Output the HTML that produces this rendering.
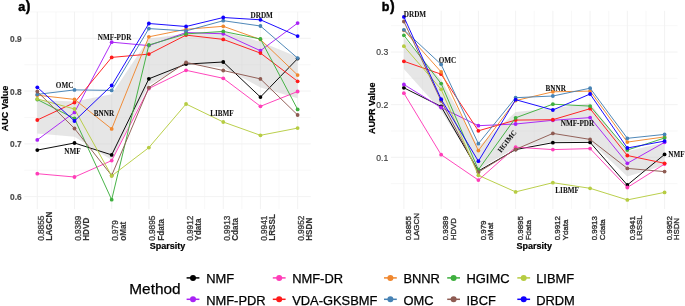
<!DOCTYPE html>
<html><head><meta charset="utf-8"><style>
html,body{margin:0;padding:0;background:#fff;}
body{width:685px;height:306px;overflow:hidden;font-family:"Liberation Sans",sans-serif;}
svg{display:block;will-change:transform;}
</style></head><body>
<svg width="685" height="306" viewBox="0 0 685 306">
<g>
<rect width="685" height="306" fill="#fff"/>
<line x1="55.89" y1="11.9" x2="55.89" y2="209.1" stroke="#F1F1F1" stroke-width="0.5"/>
<line x1="93.08" y1="11.9" x2="93.08" y2="209.1" stroke="#F1F1F1" stroke-width="0.5"/>
<line x1="130.28" y1="11.9" x2="130.28" y2="209.1" stroke="#F1F1F1" stroke-width="0.5"/>
<line x1="167.47" y1="11.9" x2="167.47" y2="209.1" stroke="#F1F1F1" stroke-width="0.5"/>
<line x1="204.66" y1="11.9" x2="204.66" y2="209.1" stroke="#F1F1F1" stroke-width="0.5"/>
<line x1="241.84" y1="11.9" x2="241.84" y2="209.1" stroke="#F1F1F1" stroke-width="0.5"/>
<line x1="279.03" y1="11.9" x2="279.03" y2="209.1" stroke="#F1F1F1" stroke-width="0.5"/>
<line x1="24.3" y1="170.23" x2="310.7" y2="170.23" stroke="#F1F1F1" stroke-width="0.5"/>
<line x1="24.3" y1="117.46" x2="310.7" y2="117.46" stroke="#F1F1F1" stroke-width="0.5"/>
<line x1="24.3" y1="64.69" x2="310.7" y2="64.69" stroke="#F1F1F1" stroke-width="0.5"/>
<line x1="24.3" y1="11.92" x2="310.7" y2="11.92" stroke="#F1F1F1" stroke-width="0.5"/>
<line x1="37.3" y1="11.9" x2="37.3" y2="209.1" stroke="#F1F1F1" stroke-width="0.9"/>
<line x1="74.49" y1="11.9" x2="74.49" y2="209.1" stroke="#F1F1F1" stroke-width="0.9"/>
<line x1="111.68" y1="11.9" x2="111.68" y2="209.1" stroke="#F1F1F1" stroke-width="0.9"/>
<line x1="148.87" y1="11.9" x2="148.87" y2="209.1" stroke="#F1F1F1" stroke-width="0.9"/>
<line x1="186.06" y1="11.9" x2="186.06" y2="209.1" stroke="#F1F1F1" stroke-width="0.9"/>
<line x1="223.25" y1="11.9" x2="223.25" y2="209.1" stroke="#F1F1F1" stroke-width="0.9"/>
<line x1="260.44" y1="11.9" x2="260.44" y2="209.1" stroke="#F1F1F1" stroke-width="0.9"/>
<line x1="297.63" y1="11.9" x2="297.63" y2="209.1" stroke="#F1F1F1" stroke-width="0.9"/>
<line x1="24.3" y1="196.61" x2="310.7" y2="196.61" stroke="#F1F1F1" stroke-width="0.9"/>
<line x1="24.3" y1="143.84" x2="310.7" y2="143.84" stroke="#F1F1F1" stroke-width="0.9"/>
<line x1="24.3" y1="91.07" x2="310.7" y2="91.07" stroke="#F1F1F1" stroke-width="0.9"/>
<line x1="24.3" y1="38.3" x2="310.7" y2="38.3" stroke="#F1F1F1" stroke-width="0.9"/>
<polygon points="37.3,100 74.49,101.5 111.68,94.21 148.87,38.5 186.06,33.67 223.25,31.5 260.44,41.67 297.63,57.03 297.63,98.23 260.44,87.47 223.25,67.5 186.06,64.13 148.87,85 111.68,159.99 74.49,136.8 37.3,133.5" fill="#C8C8C8" fill-opacity="0.45"/>
<polyline points="37.3,150.1 74.49,143 111.68,154.9 148.87,78.8 186.06,64.1 223.25,62 260.44,97.1 297.63,58.6" fill="none" stroke="#000000" stroke-width="0.95" stroke-linejoin="round"/>
<circle cx="37.3" cy="150.1" r="1.9" fill="#000000"/>
<circle cx="74.49" cy="143" r="1.9" fill="#000000"/>
<circle cx="111.68" cy="154.9" r="1.9" fill="#000000"/>
<circle cx="148.87" cy="78.8" r="1.9" fill="#000000"/>
<circle cx="186.06" cy="64.1" r="1.9" fill="#000000"/>
<circle cx="223.25" cy="62" r="1.9" fill="#000000"/>
<circle cx="260.44" cy="97.1" r="1.9" fill="#000000"/>
<circle cx="297.63" cy="58.6" r="1.9" fill="#000000"/>
<polyline points="37.3,139.9 74.49,112.4 111.68,42.2 148.87,45.6 186.06,32.5 223.25,33.8 260.44,50.7 297.63,23.1" fill="none" stroke="#A922F5" stroke-width="0.95" stroke-linejoin="round"/>
<circle cx="37.3" cy="139.9" r="1.9" fill="#A922F5"/>
<circle cx="74.49" cy="112.4" r="1.9" fill="#A922F5"/>
<circle cx="111.68" cy="42.2" r="1.9" fill="#A922F5"/>
<circle cx="148.87" cy="45.6" r="1.9" fill="#A922F5"/>
<circle cx="186.06" cy="32.5" r="1.9" fill="#A922F5"/>
<circle cx="223.25" cy="33.8" r="1.9" fill="#A922F5"/>
<circle cx="260.44" cy="50.7" r="1.9" fill="#A922F5"/>
<circle cx="297.63" cy="23.1" r="1.9" fill="#A922F5"/>
<polyline points="37.3,173.7 74.49,177 111.68,160.6 148.87,88.5 186.06,70.3 223.25,78.3 260.44,106.3 297.63,91.5" fill="none" stroke="#FF3DB8" stroke-width="0.95" stroke-linejoin="round"/>
<circle cx="37.3" cy="173.7" r="1.9" fill="#FF3DB8"/>
<circle cx="74.49" cy="177" r="1.9" fill="#FF3DB8"/>
<circle cx="111.68" cy="160.6" r="1.9" fill="#FF3DB8"/>
<circle cx="148.87" cy="88.5" r="1.9" fill="#FF3DB8"/>
<circle cx="186.06" cy="70.3" r="1.9" fill="#FF3DB8"/>
<circle cx="223.25" cy="78.3" r="1.9" fill="#FF3DB8"/>
<circle cx="260.44" cy="106.3" r="1.9" fill="#FF3DB8"/>
<circle cx="297.63" cy="91.5" r="1.9" fill="#FF3DB8"/>
<polyline points="37.3,120 74.49,102.6 111.68,57.4 148.87,54.1 186.06,35.1 223.25,39.4 260.44,53.1 297.63,81.3" fill="none" stroke="#FF1A1A" stroke-width="0.95" stroke-linejoin="round"/>
<circle cx="37.3" cy="120" r="1.9" fill="#FF1A1A"/>
<circle cx="74.49" cy="102.6" r="1.9" fill="#FF1A1A"/>
<circle cx="111.68" cy="57.4" r="1.9" fill="#FF1A1A"/>
<circle cx="148.87" cy="54.1" r="1.9" fill="#FF1A1A"/>
<circle cx="186.06" cy="35.1" r="1.9" fill="#FF1A1A"/>
<circle cx="223.25" cy="39.4" r="1.9" fill="#FF1A1A"/>
<circle cx="260.44" cy="53.1" r="1.9" fill="#FF1A1A"/>
<circle cx="297.63" cy="81.3" r="1.9" fill="#FF1A1A"/>
<polyline points="37.3,95.2 74.49,99.4 111.68,128.9 148.87,36.8 186.06,29.3 223.25,26.3 260.44,39.5 297.63,75.1" fill="none" stroke="#F0872E" stroke-width="0.95" stroke-linejoin="round"/>
<circle cx="37.3" cy="95.2" r="1.9" fill="#F0872E"/>
<circle cx="74.49" cy="99.4" r="1.9" fill="#F0872E"/>
<circle cx="111.68" cy="128.9" r="1.9" fill="#F0872E"/>
<circle cx="148.87" cy="36.8" r="1.9" fill="#F0872E"/>
<circle cx="186.06" cy="29.3" r="1.9" fill="#F0872E"/>
<circle cx="223.25" cy="26.3" r="1.9" fill="#F0872E"/>
<circle cx="260.44" cy="39.5" r="1.9" fill="#F0872E"/>
<circle cx="297.63" cy="75.1" r="1.9" fill="#F0872E"/>
<polyline points="37.3,94.4 74.49,89.9 111.68,90.4 148.87,28.6 186.06,30.9 223.25,20.7 260.44,26 297.63,58.1" fill="none" stroke="#4682B4" stroke-width="0.95" stroke-linejoin="round"/>
<circle cx="37.3" cy="94.4" r="1.9" fill="#4682B4"/>
<circle cx="74.49" cy="89.9" r="1.9" fill="#4682B4"/>
<circle cx="111.68" cy="90.4" r="1.9" fill="#4682B4"/>
<circle cx="148.87" cy="28.6" r="1.9" fill="#4682B4"/>
<circle cx="186.06" cy="30.9" r="1.9" fill="#4682B4"/>
<circle cx="223.25" cy="20.7" r="1.9" fill="#4682B4"/>
<circle cx="260.44" cy="26" r="1.9" fill="#4682B4"/>
<circle cx="297.63" cy="58.1" r="1.9" fill="#4682B4"/>
<polyline points="37.3,99.5 74.49,118.5 111.68,199.7 148.87,45 186.06,33.9 223.25,31.4 260.44,39 297.63,109.4" fill="none" stroke="#3EAF3E" stroke-width="0.95" stroke-linejoin="round"/>
<circle cx="37.3" cy="99.5" r="1.9" fill="#3EAF3E"/>
<circle cx="74.49" cy="118.5" r="1.9" fill="#3EAF3E"/>
<circle cx="111.68" cy="199.7" r="1.9" fill="#3EAF3E"/>
<circle cx="148.87" cy="45" r="1.9" fill="#3EAF3E"/>
<circle cx="186.06" cy="33.9" r="1.9" fill="#3EAF3E"/>
<circle cx="223.25" cy="31.4" r="1.9" fill="#3EAF3E"/>
<circle cx="260.44" cy="39" r="1.9" fill="#3EAF3E"/>
<circle cx="297.63" cy="109.4" r="1.9" fill="#3EAF3E"/>
<polyline points="37.3,91.5 74.49,128.5 111.68,175.5 148.87,87.6 186.06,62.4 223.25,70.5 260.44,78.9 297.63,115" fill="none" stroke="#8E5B52" stroke-width="0.95" stroke-linejoin="round"/>
<circle cx="37.3" cy="91.5" r="1.9" fill="#8E5B52"/>
<circle cx="74.49" cy="128.5" r="1.9" fill="#8E5B52"/>
<circle cx="111.68" cy="175.5" r="1.9" fill="#8E5B52"/>
<circle cx="148.87" cy="87.6" r="1.9" fill="#8E5B52"/>
<circle cx="186.06" cy="62.4" r="1.9" fill="#8E5B52"/>
<circle cx="223.25" cy="70.5" r="1.9" fill="#8E5B52"/>
<circle cx="260.44" cy="78.9" r="1.9" fill="#8E5B52"/>
<circle cx="297.63" cy="115" r="1.9" fill="#8E5B52"/>
<polyline points="37.3,98.9 74.49,109 111.68,175.9 148.87,147.6 186.06,104 223.25,122 260.44,135.3 297.63,128.1" fill="none" stroke="#B6CC42" stroke-width="0.95" stroke-linejoin="round"/>
<circle cx="37.3" cy="98.9" r="1.9" fill="#B6CC42"/>
<circle cx="74.49" cy="109" r="1.9" fill="#B6CC42"/>
<circle cx="111.68" cy="175.9" r="1.9" fill="#B6CC42"/>
<circle cx="148.87" cy="147.6" r="1.9" fill="#B6CC42"/>
<circle cx="186.06" cy="104" r="1.9" fill="#B6CC42"/>
<circle cx="223.25" cy="122" r="1.9" fill="#B6CC42"/>
<circle cx="260.44" cy="135.3" r="1.9" fill="#B6CC42"/>
<circle cx="297.63" cy="128.1" r="1.9" fill="#B6CC42"/>
<polyline points="37.3,87.3 74.49,121 111.68,85.5 148.87,23.5 186.06,26.5 223.25,17.5 260.44,19.8 297.63,36.1" fill="none" stroke="#1000FF" stroke-width="0.95" stroke-linejoin="round"/>
<circle cx="37.3" cy="87.3" r="1.9" fill="#1000FF"/>
<circle cx="74.49" cy="121" r="1.9" fill="#1000FF"/>
<circle cx="111.68" cy="85.5" r="1.9" fill="#1000FF"/>
<circle cx="148.87" cy="23.5" r="1.9" fill="#1000FF"/>
<circle cx="186.06" cy="26.5" r="1.9" fill="#1000FF"/>
<circle cx="223.25" cy="17.5" r="1.9" fill="#1000FF"/>
<circle cx="260.44" cy="19.8" r="1.9" fill="#1000FF"/>
<circle cx="297.63" cy="36.1" r="1.9" fill="#1000FF"/>
<line x1="422.52" y1="10.8" x2="422.52" y2="209" stroke="#F1F1F1" stroke-width="0.5"/>
<line x1="459.76" y1="10.8" x2="459.76" y2="209" stroke="#F1F1F1" stroke-width="0.5"/>
<line x1="497" y1="10.8" x2="497" y2="209" stroke="#F1F1F1" stroke-width="0.5"/>
<line x1="534.24" y1="10.8" x2="534.24" y2="209" stroke="#F1F1F1" stroke-width="0.5"/>
<line x1="571.48" y1="10.8" x2="571.48" y2="209" stroke="#F1F1F1" stroke-width="0.5"/>
<line x1="608.72" y1="10.8" x2="608.72" y2="209" stroke="#F1F1F1" stroke-width="0.5"/>
<line x1="645.96" y1="10.8" x2="645.96" y2="209" stroke="#F1F1F1" stroke-width="0.5"/>
<line x1="390.9" y1="183.62" x2="677.6" y2="183.62" stroke="#F1F1F1" stroke-width="0.5"/>
<line x1="390.9" y1="130.97" x2="677.6" y2="130.97" stroke="#F1F1F1" stroke-width="0.5"/>
<line x1="390.9" y1="78.32" x2="677.6" y2="78.32" stroke="#F1F1F1" stroke-width="0.5"/>
<line x1="390.9" y1="25.68" x2="677.6" y2="25.68" stroke="#F1F1F1" stroke-width="0.5"/>
<line x1="403.9" y1="10.8" x2="403.9" y2="209" stroke="#F1F1F1" stroke-width="0.9"/>
<line x1="441.14" y1="10.8" x2="441.14" y2="209" stroke="#F1F1F1" stroke-width="0.9"/>
<line x1="478.38" y1="10.8" x2="478.38" y2="209" stroke="#F1F1F1" stroke-width="0.9"/>
<line x1="515.62" y1="10.8" x2="515.62" y2="209" stroke="#F1F1F1" stroke-width="0.9"/>
<line x1="552.86" y1="10.8" x2="552.86" y2="209" stroke="#F1F1F1" stroke-width="0.9"/>
<line x1="590.1" y1="10.8" x2="590.1" y2="209" stroke="#F1F1F1" stroke-width="0.9"/>
<line x1="627.34" y1="10.8" x2="627.34" y2="209" stroke="#F1F1F1" stroke-width="0.9"/>
<line x1="664.58" y1="10.8" x2="664.58" y2="209" stroke="#F1F1F1" stroke-width="0.9"/>
<line x1="390.9" y1="157.3" x2="677.6" y2="157.3" stroke="#F1F1F1" stroke-width="0.9"/>
<line x1="390.9" y1="104.65" x2="677.6" y2="104.65" stroke="#F1F1F1" stroke-width="0.9"/>
<line x1="390.9" y1="52" x2="677.6" y2="52" stroke="#F1F1F1" stroke-width="0.9"/>
<polygon points="403.9,37.5 441.14,79.76 478.38,146.46 515.62,111.92 552.86,108.34 590.1,103.31 627.34,151.2 664.58,142.51 664.58,165.17 627.34,176.4 590.1,141.57 552.86,141.74 515.62,147.68 478.38,169.6 441.14,110.66 403.9,69" fill="#C8C8C8" fill-opacity="0.45"/>
<polyline points="403.9,87.8 441.14,106.5 478.38,171 515.62,149.6 552.86,142.7 590.1,142.4 627.34,185 664.58,154.4" fill="none" stroke="#000000" stroke-width="0.95" stroke-linejoin="round"/>
<circle cx="403.9" cy="87.8" r="1.9" fill="#000000"/>
<circle cx="441.14" cy="106.5" r="1.9" fill="#000000"/>
<circle cx="478.38" cy="171" r="1.9" fill="#000000"/>
<circle cx="515.62" cy="149.6" r="1.9" fill="#000000"/>
<circle cx="552.86" cy="142.7" r="1.9" fill="#000000"/>
<circle cx="590.1" cy="142.4" r="1.9" fill="#000000"/>
<circle cx="627.34" cy="185" r="1.9" fill="#000000"/>
<circle cx="664.58" cy="154.4" r="1.9" fill="#000000"/>
<polyline points="403.9,84.5 441.14,107.5 478.38,125.7 515.62,124 552.86,120.3 590.1,117.6 627.34,163.3 664.58,142.3" fill="none" stroke="#A922F5" stroke-width="0.95" stroke-linejoin="round"/>
<circle cx="403.9" cy="84.5" r="1.9" fill="#A922F5"/>
<circle cx="441.14" cy="107.5" r="1.9" fill="#A922F5"/>
<circle cx="478.38" cy="125.7" r="1.9" fill="#A922F5"/>
<circle cx="515.62" cy="124" r="1.9" fill="#A922F5"/>
<circle cx="552.86" cy="120.3" r="1.9" fill="#A922F5"/>
<circle cx="590.1" cy="117.6" r="1.9" fill="#A922F5"/>
<circle cx="627.34" cy="163.3" r="1.9" fill="#A922F5"/>
<circle cx="664.58" cy="142.3" r="1.9" fill="#A922F5"/>
<polyline points="403.9,93.2 441.14,154.7 478.38,180.1 515.62,147.2 552.86,149.6 590.1,148.6 627.34,187.5 664.58,164" fill="none" stroke="#FF3DB8" stroke-width="0.95" stroke-linejoin="round"/>
<circle cx="403.9" cy="93.2" r="1.9" fill="#FF3DB8"/>
<circle cx="441.14" cy="154.7" r="1.9" fill="#FF3DB8"/>
<circle cx="478.38" cy="180.1" r="1.9" fill="#FF3DB8"/>
<circle cx="515.62" cy="147.2" r="1.9" fill="#FF3DB8"/>
<circle cx="552.86" cy="149.6" r="1.9" fill="#FF3DB8"/>
<circle cx="590.1" cy="148.6" r="1.9" fill="#FF3DB8"/>
<circle cx="627.34" cy="187.5" r="1.9" fill="#FF3DB8"/>
<circle cx="664.58" cy="164" r="1.9" fill="#FF3DB8"/>
<polyline points="403.9,61.3 441.14,74.2 478.38,130.8 515.62,120.1 552.86,119.7 590.1,108.7 627.34,155.5 664.58,163.3" fill="none" stroke="#FF1A1A" stroke-width="0.95" stroke-linejoin="round"/>
<circle cx="403.9" cy="61.3" r="1.9" fill="#FF1A1A"/>
<circle cx="441.14" cy="74.2" r="1.9" fill="#FF1A1A"/>
<circle cx="478.38" cy="130.8" r="1.9" fill="#FF1A1A"/>
<circle cx="515.62" cy="120.1" r="1.9" fill="#FF1A1A"/>
<circle cx="552.86" cy="119.7" r="1.9" fill="#FF1A1A"/>
<circle cx="590.1" cy="108.7" r="1.9" fill="#FF1A1A"/>
<circle cx="627.34" cy="155.5" r="1.9" fill="#FF1A1A"/>
<circle cx="664.58" cy="163.3" r="1.9" fill="#FF1A1A"/>
<polyline points="403.9,30.3 441.14,71.9 478.38,150.6 515.62,100.6 552.86,91.8 590.1,91.1 627.34,142.1 664.58,136.9" fill="none" stroke="#F0872E" stroke-width="0.95" stroke-linejoin="round"/>
<circle cx="403.9" cy="30.3" r="1.9" fill="#F0872E"/>
<circle cx="441.14" cy="71.9" r="1.9" fill="#F0872E"/>
<circle cx="478.38" cy="150.6" r="1.9" fill="#F0872E"/>
<circle cx="515.62" cy="100.6" r="1.9" fill="#F0872E"/>
<circle cx="552.86" cy="91.8" r="1.9" fill="#F0872E"/>
<circle cx="590.1" cy="91.1" r="1.9" fill="#F0872E"/>
<circle cx="627.34" cy="142.1" r="1.9" fill="#F0872E"/>
<circle cx="664.58" cy="136.9" r="1.9" fill="#F0872E"/>
<polyline points="403.9,29.8 441.14,64.4 478.38,143.7 515.62,97.7 552.86,96 590.1,88.2 627.34,138.3 664.58,134.4" fill="none" stroke="#4682B4" stroke-width="0.95" stroke-linejoin="round"/>
<circle cx="403.9" cy="29.8" r="1.9" fill="#4682B4"/>
<circle cx="441.14" cy="64.4" r="1.9" fill="#4682B4"/>
<circle cx="478.38" cy="143.7" r="1.9" fill="#4682B4"/>
<circle cx="515.62" cy="97.7" r="1.9" fill="#4682B4"/>
<circle cx="552.86" cy="96" r="1.9" fill="#4682B4"/>
<circle cx="590.1" cy="88.2" r="1.9" fill="#4682B4"/>
<circle cx="627.34" cy="138.3" r="1.9" fill="#4682B4"/>
<circle cx="664.58" cy="134.4" r="1.9" fill="#4682B4"/>
<polyline points="403.9,35.3 441.14,83.6 478.38,169.7 515.62,117.8 552.86,104.2 590.1,106.1 627.34,150 664.58,138" fill="none" stroke="#3EAF3E" stroke-width="0.95" stroke-linejoin="round"/>
<circle cx="403.9" cy="35.3" r="1.9" fill="#3EAF3E"/>
<circle cx="441.14" cy="83.6" r="1.9" fill="#3EAF3E"/>
<circle cx="478.38" cy="169.7" r="1.9" fill="#3EAF3E"/>
<circle cx="515.62" cy="117.8" r="1.9" fill="#3EAF3E"/>
<circle cx="552.86" cy="104.2" r="1.9" fill="#3EAF3E"/>
<circle cx="590.1" cy="106.1" r="1.9" fill="#3EAF3E"/>
<circle cx="627.34" cy="150" r="1.9" fill="#3EAF3E"/>
<circle cx="664.58" cy="138" r="1.9" fill="#3EAF3E"/>
<polyline points="403.9,21.5 441.14,100.8 478.38,172.2 515.62,149.4 552.86,133.4 590.1,139.4 627.34,168.4 664.58,171.6" fill="none" stroke="#8E5B52" stroke-width="0.95" stroke-linejoin="round"/>
<circle cx="403.9" cy="21.5" r="1.9" fill="#8E5B52"/>
<circle cx="441.14" cy="100.8" r="1.9" fill="#8E5B52"/>
<circle cx="478.38" cy="172.2" r="1.9" fill="#8E5B52"/>
<circle cx="515.62" cy="149.4" r="1.9" fill="#8E5B52"/>
<circle cx="552.86" cy="133.4" r="1.9" fill="#8E5B52"/>
<circle cx="590.1" cy="139.4" r="1.9" fill="#8E5B52"/>
<circle cx="627.34" cy="168.4" r="1.9" fill="#8E5B52"/>
<circle cx="664.58" cy="171.6" r="1.9" fill="#8E5B52"/>
<polyline points="403.9,46.2 441.14,89.3 478.38,175.3 515.62,191.9 552.86,182.7 590.1,188.3 627.34,199.9 664.58,192.4" fill="none" stroke="#B6CC42" stroke-width="0.95" stroke-linejoin="round"/>
<circle cx="403.9" cy="46.2" r="1.9" fill="#B6CC42"/>
<circle cx="441.14" cy="89.3" r="1.9" fill="#B6CC42"/>
<circle cx="478.38" cy="175.3" r="1.9" fill="#B6CC42"/>
<circle cx="515.62" cy="191.9" r="1.9" fill="#B6CC42"/>
<circle cx="552.86" cy="182.7" r="1.9" fill="#B6CC42"/>
<circle cx="590.1" cy="188.3" r="1.9" fill="#B6CC42"/>
<circle cx="627.34" cy="199.9" r="1.9" fill="#B6CC42"/>
<circle cx="664.58" cy="192.4" r="1.9" fill="#B6CC42"/>
<polyline points="403.9,16.9 441.14,99.2 478.38,161.2 515.62,99.7 552.86,110 590.1,94 627.34,148 664.58,141.1" fill="none" stroke="#1000FF" stroke-width="0.95" stroke-linejoin="round"/>
<circle cx="403.9" cy="16.9" r="1.9" fill="#1000FF"/>
<circle cx="441.14" cy="99.2" r="1.9" fill="#1000FF"/>
<circle cx="478.38" cy="161.2" r="1.9" fill="#1000FF"/>
<circle cx="515.62" cy="99.7" r="1.9" fill="#1000FF"/>
<circle cx="552.86" cy="110" r="1.9" fill="#1000FF"/>
<circle cx="590.1" cy="94" r="1.9" fill="#1000FF"/>
<circle cx="627.34" cy="148" r="1.9" fill="#1000FF"/>
<circle cx="664.58" cy="141.1" r="1.9" fill="#1000FF"/>
<text x="21.6" y="41.9" text-anchor="end" font-family="Liberation Sans, sans-serif" font-weight="bold" font-size="8.3" fill="#4D4D4D" stroke="#4D4D4D" stroke-width="0.2">0.9</text>
<text x="21.6" y="94.67" text-anchor="end" font-family="Liberation Sans, sans-serif" font-weight="bold" font-size="8.3" fill="#4D4D4D" stroke="#4D4D4D" stroke-width="0.2">0.8</text>
<text x="21.6" y="147.44" text-anchor="end" font-family="Liberation Sans, sans-serif" font-weight="bold" font-size="8.3" fill="#4D4D4D" stroke="#4D4D4D" stroke-width="0.2">0.7</text>
<text x="21.6" y="200.21" text-anchor="end" font-family="Liberation Sans, sans-serif" font-weight="bold" font-size="8.3" fill="#4D4D4D" stroke="#4D4D4D" stroke-width="0.2">0.6</text>
<text x="388.3" y="55.3" text-anchor="end" font-family="Liberation Sans, sans-serif" font-size="8.6" fill="#3C3C3C" stroke="#3C3C3C" stroke-width="0.15">0.3</text>
<text x="388.3" y="107.95" text-anchor="end" font-family="Liberation Sans, sans-serif" font-size="8.6" fill="#3C3C3C" stroke="#3C3C3C" stroke-width="0.15">0.2</text>
<text x="388.3" y="160.6" text-anchor="end" font-family="Liberation Sans, sans-serif" font-size="8.6" fill="#3C3C3C" stroke="#3C3C3C" stroke-width="0.15">0.1</text>
<text transform="translate(8.3,108.5) rotate(-90)" text-anchor="middle" font-family="Liberation Sans, sans-serif" font-weight="bold" font-size="9" fill="#000" stroke="#000" stroke-width="0.2">AUC Value</text>
<text transform="translate(375.2,108.3) rotate(-90)" text-anchor="middle" font-family="Liberation Sans, sans-serif" font-weight="bold" font-size="9" fill="#000" stroke="#000" stroke-width="0.2">AUPR Value</text>
<text transform="translate(43.9,240.8) rotate(-90)" font-family="Liberation Sans, sans-serif" stroke="#444" stroke-width="0.35" font-size="8.2" fill="#444">0.8855</text>
<text transform="translate(52,240.8) rotate(-90)" font-family="Liberation Sans, sans-serif" font-weight="bold" stroke="#333" stroke-width="0.15" font-size="8.2" fill="#333">LAGCN</text>
<text transform="translate(81.09,240.8) rotate(-90)" font-family="Liberation Sans, sans-serif" stroke="#444" stroke-width="0.35" font-size="8.2" fill="#444">0.9389</text>
<text transform="translate(89.19,240.8) rotate(-90)" font-family="Liberation Sans, sans-serif" font-weight="bold" stroke="#333" stroke-width="0.15" font-size="8.2" fill="#333">HDVD</text>
<text transform="translate(118.28,240.8) rotate(-90)" font-family="Liberation Sans, sans-serif" stroke="#444" stroke-width="0.35" font-size="8.2" fill="#444">0.979</text>
<text transform="translate(126.38,240.8) rotate(-90)" font-family="Liberation Sans, sans-serif" font-weight="bold" stroke="#333" stroke-width="0.15" font-size="8.2" fill="#333">oMat</text>
<text transform="translate(155.47,240.8) rotate(-90)" font-family="Liberation Sans, sans-serif" stroke="#444" stroke-width="0.35" font-size="8.2" fill="#444">0.9895</text>
<text transform="translate(163.57,240.8) rotate(-90)" font-family="Liberation Sans, sans-serif" font-weight="bold" stroke="#333" stroke-width="0.15" font-size="8.2" fill="#333">Fdata</text>
<text transform="translate(192.66,240.8) rotate(-90)" font-family="Liberation Sans, sans-serif" stroke="#444" stroke-width="0.35" font-size="8.2" fill="#444">0.9912</text>
<text transform="translate(200.76,240.8) rotate(-90)" font-family="Liberation Sans, sans-serif" font-weight="bold" stroke="#333" stroke-width="0.15" font-size="8.2" fill="#333">Ydata</text>
<text transform="translate(229.85,240.8) rotate(-90)" font-family="Liberation Sans, sans-serif" stroke="#444" stroke-width="0.35" font-size="8.2" fill="#444">0.9913</text>
<text transform="translate(237.95,240.8) rotate(-90)" font-family="Liberation Sans, sans-serif" font-weight="bold" stroke="#333" stroke-width="0.15" font-size="8.2" fill="#333">Cdata</text>
<text transform="translate(267.04,240.8) rotate(-90)" font-family="Liberation Sans, sans-serif" stroke="#444" stroke-width="0.35" font-size="8.2" fill="#444">0.9941</text>
<text transform="translate(275.14,240.8) rotate(-90)" font-family="Liberation Sans, sans-serif" font-weight="bold" stroke="#333" stroke-width="0.15" font-size="8.2" fill="#333">LRSSL</text>
<text transform="translate(304.23,240.8) rotate(-90)" font-family="Liberation Sans, sans-serif" stroke="#444" stroke-width="0.35" font-size="8.2" fill="#444">0.9952</text>
<text transform="translate(312.33,240.8) rotate(-90)" font-family="Liberation Sans, sans-serif" font-weight="bold" stroke="#333" stroke-width="0.15" font-size="8.2" fill="#333">HSDN</text>
<text transform="translate(411.1,240.3) rotate(-90)" font-family="Liberation Sans, sans-serif" stroke="#333" stroke-width="0.35" font-size="7.9" fill="#333">0.8855</text>
<text transform="translate(418.8,240.3) rotate(-90)" font-family="Liberation Sans, sans-serif" stroke="#333" stroke-width="0.35" font-size="7.9" fill="#333">LAGCN</text>
<text transform="translate(448.34,240.3) rotate(-90)" font-family="Liberation Sans, sans-serif" stroke="#333" stroke-width="0.35" font-size="7.9" fill="#333">0.9389</text>
<text transform="translate(456.04,240.3) rotate(-90)" font-family="Liberation Sans, sans-serif" stroke="#333" stroke-width="0.35" font-size="7.9" fill="#333">HDVD</text>
<text transform="translate(485.58,240.3) rotate(-90)" font-family="Liberation Sans, sans-serif" stroke="#333" stroke-width="0.35" font-size="7.9" fill="#333">0.979</text>
<text transform="translate(493.28,240.3) rotate(-90)" font-family="Liberation Sans, sans-serif" stroke="#333" stroke-width="0.35" font-size="7.9" fill="#333">oMat</text>
<text transform="translate(522.82,240.3) rotate(-90)" font-family="Liberation Sans, sans-serif" stroke="#333" stroke-width="0.35" font-size="7.9" fill="#333">0.9895</text>
<text transform="translate(530.52,240.3) rotate(-90)" font-family="Liberation Sans, sans-serif" stroke="#333" stroke-width="0.35" font-size="7.9" fill="#333">Fdata</text>
<text transform="translate(560.06,240.3) rotate(-90)" font-family="Liberation Sans, sans-serif" stroke="#333" stroke-width="0.35" font-size="7.9" fill="#333">0.9912</text>
<text transform="translate(567.76,240.3) rotate(-90)" font-family="Liberation Sans, sans-serif" stroke="#333" stroke-width="0.35" font-size="7.9" fill="#333">Ydata</text>
<text transform="translate(597.3,240.3) rotate(-90)" font-family="Liberation Sans, sans-serif" stroke="#333" stroke-width="0.35" font-size="7.9" fill="#333">0.9913</text>
<text transform="translate(605,240.3) rotate(-90)" font-family="Liberation Sans, sans-serif" stroke="#333" stroke-width="0.35" font-size="7.9" fill="#333">Cdata</text>
<text transform="translate(634.54,240.3) rotate(-90)" font-family="Liberation Sans, sans-serif" stroke="#333" stroke-width="0.35" font-size="7.9" fill="#333">0.9941</text>
<text transform="translate(642.24,240.3) rotate(-90)" font-family="Liberation Sans, sans-serif" stroke="#333" stroke-width="0.35" font-size="7.9" fill="#333">LRSSL</text>
<text transform="translate(671.78,240.3) rotate(-90)" font-family="Liberation Sans, sans-serif" stroke="#333" stroke-width="0.35" font-size="7.9" fill="#333">0.9952</text>
<text transform="translate(679.48,240.3) rotate(-90)" font-family="Liberation Sans, sans-serif" stroke="#333" stroke-width="0.35" font-size="7.9" fill="#333">HSDN</text>
<text x="167.5" y="248.8" text-anchor="middle" font-family="Liberation Sans, sans-serif" font-weight="bold" font-size="9" fill="#000" stroke="#000" stroke-width="0.2">Sparsity</text>
<text x="534.2" y="248.7" text-anchor="middle" font-family="Liberation Sans, sans-serif" font-weight="bold" font-size="9" fill="#000" stroke="#000" stroke-width="0.2">Sparsity</text>
<text x="18.3" y="10.5" font-family="Liberation Sans, sans-serif" font-weight="bold" fill="#000" stroke="#000" stroke-width="0.45" font-size="12.6">a</text>
<text x="25.8" y="10.7" font-family="Liberation Sans, sans-serif" font-weight="bold" fill="#000" stroke="#000" stroke-width="0.45" font-size="14">)</text>
<text x="381.7" y="10.5" font-family="Liberation Sans, sans-serif" font-weight="bold" fill="#000" stroke="#000" stroke-width="0.45" font-size="12.6">b</text>
<text x="390.1" y="10.5" font-family="Liberation Sans, sans-serif" font-weight="bold" fill="#000" stroke="#000" stroke-width="0.45" font-size="14">)</text>
<text x="97.8" y="39.9" font-family="Liberation Serif, serif" font-weight="bold" font-size="7.2" fill="#111" stroke="#111" stroke-width="0.05">NMF-PDR</text>
<text x="55.8" y="87.7" font-family="Liberation Serif, serif" font-weight="bold" font-size="7.2" fill="#111" stroke="#111" stroke-width="0.05">OMC</text>
<text x="93.8" y="115.7" font-family="Liberation Serif, serif" font-weight="bold" font-size="7.2" fill="#111" stroke="#111" stroke-width="0.05">BNNR</text>
<text x="64.2" y="153.7" font-family="Liberation Serif, serif" font-weight="bold" font-size="7.2" fill="#111" stroke="#111" stroke-width="0.05">NMF</text>
<text x="210.2" y="115.7" font-family="Liberation Serif, serif" font-weight="bold" font-size="7.2" fill="#111" stroke="#111" stroke-width="0.05">LIBMF</text>
<text x="250.5" y="17.6" font-family="Liberation Serif, serif" font-weight="bold" font-size="7.2" fill="#111" stroke="#111" stroke-width="0.05">DRDM</text>
<text x="403.8" y="17.1" font-family="Liberation Serif, serif" font-weight="bold" font-size="7.2" fill="#111" stroke="#111" stroke-width="0.05">DRDM</text>
<text x="438.7" y="63.3" font-family="Liberation Serif, serif" font-weight="bold" font-size="7.2" fill="#111" stroke="#111" stroke-width="0.05">OMC</text>
<text x="545.5" y="90.9" font-family="Liberation Serif, serif" font-weight="bold" font-size="7.2" fill="#111" stroke="#111" stroke-width="0.05">BNNR</text>
<text x="560.7" y="125.5" font-family="Liberation Serif, serif" font-weight="bold" font-size="7.2" fill="#111" stroke="#111" stroke-width="0.05">NMF-PDR</text>
<text x="555.3" y="192.9" font-family="Liberation Serif, serif" font-weight="bold" font-size="7.2" fill="#111" stroke="#111" stroke-width="0.05">LIBMF</text>
<text x="668.3" y="157.3" font-family="Liberation Serif, serif" font-weight="bold" font-size="7.2" fill="#111" stroke="#111" stroke-width="0.05">NMF</text>
<text transform="translate(507.3,141.6) rotate(-52)" text-anchor="middle" dominant-baseline="central" font-family="Liberation Serif, serif" font-weight="bold" font-size="7.2" fill="#111" stroke="#111" stroke-width="0.05">HGIMC</text>
<text x="129.3" y="294.4" font-family="Liberation Sans, sans-serif" font-size="15.4" fill="#000" stroke="#000" stroke-width="0.25">Method</text>
<line x1="186.6" y1="277.9" x2="199.4" y2="277.9" stroke="#000000" stroke-width="1.5"/>
<circle cx="193" cy="277.9" r="3.0" fill="#000000"/>
<text x="206.2" y="283.3" font-family="Liberation Sans, sans-serif" font-size="12.9" fill="#000" stroke="#000" stroke-width="0.25">NMF</text>
<line x1="186.6" y1="299.3" x2="199.4" y2="299.3" stroke="#A922F5" stroke-width="1.5"/>
<circle cx="193" cy="299.3" r="3.0" fill="#A922F5"/>
<text x="206.2" y="304.7" font-family="Liberation Sans, sans-serif" font-size="12.9" fill="#000" stroke="#000" stroke-width="0.25">NMF-PDR</text>
<line x1="272.8" y1="277.9" x2="285.6" y2="277.9" stroke="#FF3DB8" stroke-width="1.5"/>
<circle cx="279.2" cy="277.9" r="3.0" fill="#FF3DB8"/>
<text x="292.2" y="283.3" font-family="Liberation Sans, sans-serif" font-size="12.9" fill="#000" stroke="#000" stroke-width="0.25">NMF-DR</text>
<line x1="272.8" y1="299.3" x2="285.6" y2="299.3" stroke="#FF1A1A" stroke-width="1.5"/>
<circle cx="279.2" cy="299.3" r="3.0" fill="#FF1A1A"/>
<text x="292.2" y="304.7" font-family="Liberation Sans, sans-serif" font-size="12.9" fill="#000" stroke="#000" stroke-width="0.25">VDA-GKSBMF</text>
<line x1="384" y1="277.9" x2="396.8" y2="277.9" stroke="#F0872E" stroke-width="1.5"/>
<circle cx="390.4" cy="277.9" r="3.0" fill="#F0872E"/>
<text x="403.4" y="283.3" font-family="Liberation Sans, sans-serif" font-size="12.9" fill="#000" stroke="#000" stroke-width="0.25">BNNR</text>
<line x1="384" y1="299.3" x2="396.8" y2="299.3" stroke="#4682B4" stroke-width="1.5"/>
<circle cx="390.4" cy="299.3" r="3.0" fill="#4682B4"/>
<text x="403.4" y="304.7" font-family="Liberation Sans, sans-serif" font-size="12.9" fill="#000" stroke="#000" stroke-width="0.25">OMC</text>
<line x1="447.2" y1="277.9" x2="460" y2="277.9" stroke="#3EAF3E" stroke-width="1.5"/>
<circle cx="453.6" cy="277.9" r="3.0" fill="#3EAF3E"/>
<text x="466.5" y="283.3" font-family="Liberation Sans, sans-serif" font-size="12.9" fill="#000" stroke="#000" stroke-width="0.25">HGIMC</text>
<line x1="447.2" y1="299.3" x2="460" y2="299.3" stroke="#8E5B52" stroke-width="1.5"/>
<circle cx="453.6" cy="299.3" r="3.0" fill="#8E5B52"/>
<text x="466.5" y="304.7" font-family="Liberation Sans, sans-serif" font-size="12.9" fill="#000" stroke="#000" stroke-width="0.25">IBCF</text>
<line x1="517.3" y1="277.9" x2="530.1" y2="277.9" stroke="#B6CC42" stroke-width="1.5"/>
<circle cx="523.7" cy="277.9" r="3.0" fill="#B6CC42"/>
<text x="536.2" y="283.3" font-family="Liberation Sans, sans-serif" font-size="12.9" fill="#000" stroke="#000" stroke-width="0.25">LIBMF</text>
<line x1="517.3" y1="299.3" x2="530.1" y2="299.3" stroke="#1000FF" stroke-width="1.5"/>
<circle cx="523.7" cy="299.3" r="3.0" fill="#1000FF"/>
<text x="536.2" y="304.7" font-family="Liberation Sans, sans-serif" font-size="12.9" fill="#000" stroke="#000" stroke-width="0.25">DRDM</text>
</g></svg>
</body></html>
